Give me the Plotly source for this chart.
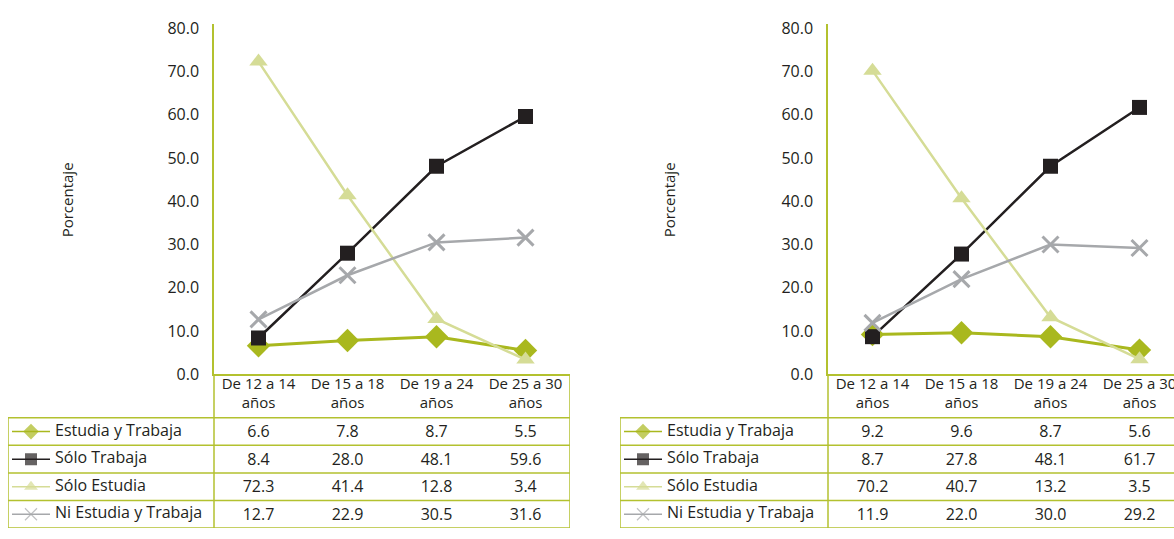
import plotly.graph_objects as go

category_line1 = ["De 12 a 14", "De 15 a 18", "De 19 a 24", "De 25 a 30"]
category_line2 = ["años", "años", "años", "años"]
series_names = ["Estudia y Trabaja", "Sólo Trabaja", "Sólo Estudia", "Ni Estudia y Trabaja"]

left_estudia_trabaja = [6.6, 7.8, 8.7, 5.5]
left_solo_trabaja = [8.4, 28.0, 48.1, 59.6]
left_solo_estudia = [72.3, 41.4, 12.8, 3.4]
left_ni_estudia = [12.7, 22.9, 30.5, 31.6]

right_estudia_trabaja = [9.2, 9.6, 8.7, 5.6]
right_solo_trabaja = [8.7, 27.8, 48.1, 61.7]
right_solo_estudia = [70.2, 40.7, 13.2, 3.5]
right_ni_estudia = [11.9, 22.0, 30.0, 29.2]

y_ticks = [0, 10, 20, 30, 40, 50, 60, 70, 80]

W, H = 1174, 539
FONT = "Open Sans"
FS = 16
TXT = "#231f20"
BORDER = "#b3c12f"

styles = [
    dict(color="#a9b81e", symbol="diamond", size=18, width=3),
    dict(color="#231f20", symbol="square", size=15, width=2.5),
    dict(color="#d5dc96", symbol="triangle-up", size=16, width=2.5),
    dict(color="#a6a8ab", symbol="x-thin", size=16, width=2.5),
]

def px(x):
    return x / W

def py(y):
    return 1 - y / H

fig = go.Figure()

CAT_W = 89.0
Y_AXIS_TOP = 18
Y_ZERO = 380
PER_UNIT = 4.475
y_top_val = (Y_ZERO - Y_AXIS_TOP) / PER_UNIT
ROW_H = 28.5
TABLE_TOP = 425
HEADER_L1 = 391
HEADER_L2 = 411
ROW_TEXT_SHIFT = 1.5 / ROW_H

def row_coord(pix):
    return (pix - (TABLE_TOP + ROW_H / 2)) / ROW_H

panels = [
    dict(axis_x=214, left_border=8, data=[left_estudia_trabaja, left_solo_trabaja, left_solo_estudia, left_ni_estudia]),
    dict(axis_x=828, left_border=620, data=[right_estudia_trabaja, right_solo_trabaja, right_solo_estudia, right_ni_estudia]),
]

shapes = []
annotations = []
for p_i, panel in enumerate(panels):
    n = 2 * p_i + 1
    cx, cy = f"x{n}" if n > 1 else "x", f"y{n}" if n > 1 else "y"
    tx, ty = f"x{n+1}", f"y{n+1}"
    ax = panel["axis_x"]
    right_px = min(ax + 4 * CAT_W, W)
    xr_max = -0.5 + (right_px - ax) / CAT_W
    tab_left = panel["left_border"]
    tab_xmin = -0.5 - (ax - tab_left) / CAT_W
    xa = dict(domain=[px(ax), px(right_px)], range=[-0.5, xr_max], showticklabels=False,
              showgrid=False, zeroline=False, showline=True, linecolor=BORDER, linewidth=1.5,
              ticks="", anchor=cy, fixedrange=True)
    ya = dict(domain=[py(Y_ZERO), py(Y_AXIS_TOP)], range=[0, y_top_val], tickmode="array",
              tickvals=y_ticks, ticktext=[f"{v:.1f}" for v in y_ticks], showgrid=False,
              zeroline=False, showline=True, linecolor=BORDER, linewidth=1.5, ticks="",
              ticklabelstandoff=10, tickfont=dict(family=FONT, size=FS, color=TXT), anchor=cx,
              fixedrange=True)
    y_top_tab = row_coord(Y_ZERO)
    y_bot_tab = row_coord(H)
    txa = dict(domain=[px(tab_left), px(right_px)], range=[tab_xmin, xr_max], visible=False,
               anchor=ty, fixedrange=True)
    tya = dict(domain=[0, py(Y_ZERO)], range=[y_bot_tab, y_top_tab], visible=False,
               anchor=tx, fixedrange=True)
    sfx = "" if n == 1 else str(n)
    fig.update_layout(**{f"xaxis{sfx}": xa, f"yaxis{sfx}": ya,
                         f"xaxis{n+1}": txa, f"yaxis{n+1}": tya})

    for line_txt, line_pix in ((category_line1, HEADER_L1), (category_line2, HEADER_L2)):
        fig.add_trace(go.Scatter(
            x=[0, 1, 2, 3], y=[row_coord(line_pix)] * 4, mode="text", text=line_txt,
            textfont=dict(family=FONT, size=15, color=TXT), showlegend=False,
            xaxis=tx, yaxis=ty, hoverinfo="skip", cliponaxis=True))

    for s_i, (name, vals) in enumerate(zip(series_names, panel["data"])):
        st = styles[s_i]
        fig.add_trace(go.Scatter(
            x=[0, 1, 2, 3], y=vals, mode="lines+markers", name=name, showlegend=False,
            line=dict(color=st["color"], width=st["width"]),
            marker=dict(color=st["color"], symbol=st["symbol"], size=st["size"],
                        line=dict(color=st["color"], width=3 if st["symbol"] == "x-thin" else 0)),
            xaxis=cx, yaxis=cy, cliponaxis=False))
        fig.add_trace(go.Scatter(
            x=[0, 1, 2, 3], y=[s_i + ROW_TEXT_SHIFT] * 4, mode="text", text=[f"{v:.1f}" for v in vals],
            textfont=dict(family=FONT, size=FS, color=TXT), showlegend=False,
            xaxis=tx, yaxis=ty, hoverinfo="skip", cliponaxis=True))
        lx0 = tab_xmin + 4 / CAT_W
        lx1 = tab_xmin + 42 / CAT_W
        fig.add_trace(go.Scatter(
            x=[lx0, (lx0 + lx1) / 2, lx1], y=[s_i] * 3, mode="lines+markers", showlegend=False,
            line=dict(color=st["color"], width=1.5),
            marker=dict(color=st["color"], symbol=st["symbol"], size=[0, 12, 0],
                        line=dict(color=st["color"], width=1.2 if st["symbol"] == "x-thin" else 0)),
            xaxis=tx, yaxis=ty, hoverinfo="skip", cliponaxis=True))
        fig.add_trace(go.Scatter(
            x=[tab_xmin + 47 / CAT_W], y=[s_i], mode="text", text=[name],
            textposition="middle right", textfont=dict(family=FONT, size=FS, color=TXT),
            showlegend=False, xaxis=tx, yaxis=ty, hoverinfo="skip", cliponaxis=True))

    for k in range(5):
        shapes.append(dict(type="line", xref=tx, yref=ty, x0=tab_xmin, x1=3.5, y0=-0.5 + k, y1=-0.5 + k,
                           line=dict(color=BORDER, width=1.5)))
    shapes.append(dict(type="line", xref=tx, yref=ty, x0=tab_xmin, x1=tab_xmin, y0=-0.5, y1=y_bot_tab,
                       line=dict(color=BORDER, width=1.5)))
    shapes.append(dict(type="line", xref=tx, yref=ty, x0=-0.5, x1=-0.5, y0=y_top_tab, y1=y_bot_tab,
                       line=dict(color=BORDER, width=1.5)))
    shapes.append(dict(type="line", xref=tx, yref=ty, x0=3.5, x1=3.5, y0=y_top_tab, y1=y_bot_tab,
                       line=dict(color=BORDER, width=1.5)))

    annotations.append(dict(text="Porcentaje", textangle=-90, xref="paper", yref="paper",
                            x=px(ax - 159), y=py(200), showarrow=False,
                            font=dict(family=FONT, size=15, color=TXT)))

fig.update_layout(width=W, height=H, margin=dict(l=0, r=0, t=0, b=0),
                  paper_bgcolor="white", plot_bgcolor="white", shapes=shapes,
                  annotations=annotations, showlegend=False)

fig.write_html("out.html", config={"displayModeBar": False},
               post_script=("document.documentElement.style.overflow='hidden';"
                            "document.body.style.margin='0';document.body.style.overflow='hidden';"
                            "var g=document.getElementById('{plot_id}');"
                            "g.style.overflow='hidden';"))
